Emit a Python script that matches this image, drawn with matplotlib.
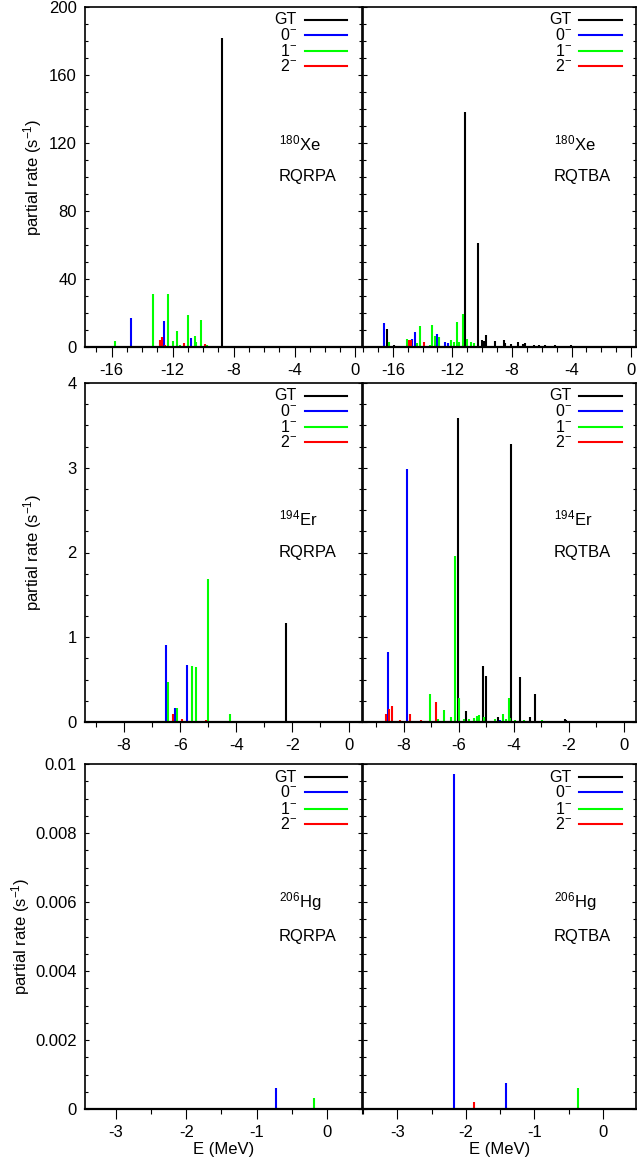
import matplotlib
matplotlib.use("Agg")
import matplotlib.pyplot as plt
from matplotlib.ticker import MultipleLocator, FuncFormatter

plt.rcParams['font.family'] = ['Liberation Sans', 'DejaVu Sans']
plt.rcParams['mathtext.fontset'] = 'custom'
plt.rcParams['mathtext.rm'] = 'Liberation Sans'
plt.rcParams['mathtext.it'] = 'Liberation Sans:italic'
plt.rcParams['mathtext.bf'] = 'Liberation Sans:bold'
plt.rcParams['axes.unicode_minus'] = False

# ---------------- data: 180Xe RQRPA ----------------
xe_qrpa_gt_E = [-8.78, -3.85]
xe_qrpa_gt_R = [182.0, 0.5]
xe_qrpa_0_E = [-14.75, -12.57, -10.79]
xe_qrpa_0_R = [17.3, 15.3, 5.3]
xe_qrpa_1_E = [-15.78, -13.29, -12.32, -11.96, -11.71, -11.54, -10.99, -10.53, -10.44, -10.14, -9.72]
xe_qrpa_1_R = [3.5, 31.0, 31.0, 3.5, 9.4, 1.2, 18.6, 6.5, 3.1, 15.9, 1.2]
xe_qrpa_2_E = [-12.83, -12.70, -12.50, -11.25, -9.87, -6.81]
xe_qrpa_2_R = [3.9, 5.9, 1.2, 2.4, 2.0, 0.6]

# ---------------- data: 180Xe RQTBA ----------------
xe_qtba_gt_E = [-16.40, -15.91, -11.15, -10.28, -9.99, -9.87, -9.74, -9.15, -8.53, -8.44, -8.06,
                -7.59, -7.28, -7.14, -6.54, -6.16, -5.80, -5.09, -4.57, -4.01, -3.29]
xe_qtba_gt_R = [10.6, 1.2, 138.0, 61.4, 3.9, 3.5, 7.1, 3.5, 3.9, 2.2, 2.0,
                2.7, 1.6, 2.4, 1.2, 1.0, 1.4, 1.2, 0.8, 1.0, 0.6]
xe_qtba_0_E = [-16.60, -14.70, -14.52, -13.03, -12.51, -12.29]
xe_qtba_0_R = [14.1, 4.7, 8.8, 7.6, 2.7, 2.2]
xe_qtba_1_E = [-16.23, -15.06, -14.39, -14.15, -13.48, -13.36, -13.18, -12.87, -12.07, -11.89,
               -11.68, -11.57, -11.26, -10.99, -10.77, -10.54]
xe_qtba_1_R = [2.7, 4.5, 2.2, 12.2, 1.2, 12.9, 6.5, 5.7, 3.9, 2.9,
               14.5, 2.9, 19.2, 4.7, 3.1, 2.4]
xe_qtba_2_E = [-17.17, -15.60, -14.91, -14.79, -13.88, -13.70, -10.10, -9.10, -4.20]
xe_qtba_2_R = [0.4, 0.8, 3.9, 4.3, 2.7, 0.8, 0.5, 0.5, 0.3]

# ---------------- data: 194Er RQRPA ----------------
er_qrpa_gt_E = [-2.24]
er_qrpa_gt_R = [1.172]
er_qrpa_0_E = [-6.52, -6.17, -5.77]
er_qrpa_0_R = [0.912, 0.161, 0.669]
er_qrpa_1_E = [-6.42, -6.11, -5.59, -5.45, -5.02, -4.82, -4.21]
er_qrpa_1_R = [0.468, 0.169, 0.657, 0.653, 1.691, 0.01, 0.098]
er_qrpa_2_E = [-6.27, -5.93, -5.09, -3.99]
er_qrpa_2_R = [0.094, 0.031, 0.02, 0.016]

# ---------------- data: 194Er RQTBA ----------------
er_qtba_gt_E = [-6.01, -5.73, -5.13, -5.02, -4.56, -4.10, -3.77, -3.42, -3.24,
                -2.58, -2.15, -2.10, -1.98, -1.52, -1.03]
er_qtba_gt_R = [3.59, 0.126, 0.661, 0.547, 0.063, 3.28, 0.535, 0.055, 0.33,
                0.012, 0.03, 0.028, 0.016, 0.012, 0.008]
er_qtba_0_E = [-8.57, -7.87, -4.51]
er_qtba_0_R = [0.826, 2.99, 0.028]
er_qtba_1_E = [-7.09, -7.03, -6.74, -6.53, -6.29, -6.13, -5.97, -5.82, -5.64, -5.54, -5.44,
               -5.33, -5.27, -5.08, -4.98, -4.84, -4.69, -4.38, -4.29, -4.18, -4.12,
               -3.95, -3.62, -3.39, -2.97, -2.91]
er_qtba_1_R = [0.016, 0.334, 0.03, 0.146, 0.063, 1.96, 0.287, 0.04, 0.03, 0.016, 0.043,
               0.075, 0.087, 0.063, 0.016, 0.016, 0.03, 0.098, 0.03, 0.287, 0.047,
               0.028, 0.02, 0.016, 0.02, 0.016]
er_qtba_2_E = [-8.64, -8.52, -8.42, -8.34, -8.15, -7.78, -7.38, -6.84]
er_qtba_2_R = [0.094, 0.157, 0.193, 0.016, 0.02, 0.09, 0.024, 0.232]

# ---------------- data: 206Hg RQRPA ----------------
hg_qrpa_gt_E = []
hg_qrpa_gt_R = []
hg_qrpa_0_E = [-0.717]
hg_qrpa_0_R = [0.0006]
hg_qrpa_1_E = [-0.185]
hg_qrpa_1_R = [0.00032]
hg_qrpa_2_E = []
hg_qrpa_2_R = []

# ---------------- data: 206Hg RQTBA ----------------
hg_qtba_gt_E = []
hg_qtba_gt_R = []
hg_qtba_0_E = [-2.18, -1.41]
hg_qtba_0_R = [0.0097, 0.00076]
hg_qtba_1_E = [-0.37]
hg_qtba_1_R = [0.00062]
hg_qtba_2_E = [-1.88]
hg_qtba_2_R = [0.00021]

channel_labels = ['GT', '0$^{-}$', '1$^{-}$', '2$^{-}$']
channel_colors = ['#000000', '#0000ff', '#00ff00', '#ff0000']
nuclei = ['$^{180}$Xe', '$^{194}$Er', '$^{206}$Hg']
methods = ['RQRPA', 'RQTBA']

panels = [
    [[(xe_qrpa_gt_E, xe_qrpa_gt_R), (xe_qrpa_0_E, xe_qrpa_0_R), (xe_qrpa_1_E, xe_qrpa_1_R), (xe_qrpa_2_E, xe_qrpa_2_R)],
     [(xe_qtba_gt_E, xe_qtba_gt_R), (xe_qtba_0_E, xe_qtba_0_R), (xe_qtba_1_E, xe_qtba_1_R), (xe_qtba_2_E, xe_qtba_2_R)]],
    [[(er_qrpa_gt_E, er_qrpa_gt_R), (er_qrpa_0_E, er_qrpa_0_R), (er_qrpa_1_E, er_qrpa_1_R), (er_qrpa_2_E, er_qrpa_2_R)],
     [(er_qtba_gt_E, er_qtba_gt_R), (er_qtba_0_E, er_qtba_0_R), (er_qtba_1_E, er_qtba_1_R), (er_qtba_2_E, er_qtba_2_R)]],
    [[(hg_qrpa_gt_E, hg_qrpa_gt_R), (hg_qrpa_0_E, hg_qrpa_0_R), (hg_qrpa_1_E, hg_qrpa_1_R), (hg_qrpa_2_E, hg_qrpa_2_R)],
     [(hg_qtba_gt_E, hg_qtba_gt_R), (hg_qtba_0_E, hg_qtba_0_R), (hg_qtba_1_E, hg_qtba_1_R), (hg_qtba_2_E, hg_qtba_2_R)]],
]

# layout (pixels)
W, H = 637, 1165
rows_px = [(7, 347), (383, 722), (764, 1109)]
cols_px = [(85, 362), (363, 636)]
ylabel_x = [33, 33, 21]
xlims = [[(-17.75, 0.43), (-18.0, 0.33)],
         [(-9.39, 0.48), (-9.48, 0.45)],
         [(-3.44, 0.50), (-3.50, 0.48)]]
ylims = [(0, 200), (0, 4), (0, 0.01)]
ymaj = [40, 1, 0.002]
ymin = [10, 0.25, 0.0005]
xmaj = [4, 2, 1]
xmin = [1, 1, 0.5]

fig = plt.figure(figsize=(W / 100, H / 100), dpi=100)

def fmt(v, pos):
    v = round(v, 6) + 0.0
    return '%g' % v

for r in range(3):
    y0, y1 = rows_px[r]
    for c in range(2):
        x0, x1 = cols_px[c]
        ax = fig.add_axes([x0 / W, 1 - y1 / H, (x1 - x0) / W, (y1 - y0) / H])
        for k in range(4):
            E, R = panels[r][c][k]
            if len(E):
                ax.vlines(E, 0, R, colors=channel_colors[k], linewidth=1.5, zorder=2)
        ax.set_xlim(*xlims[r][c])
        ax.set_ylim(*ylims[r])
        ax.xaxis.set_major_locator(MultipleLocator(xmaj[r]))
        ax.xaxis.set_minor_locator(MultipleLocator(xmin[r]))
        ax.yaxis.set_major_locator(MultipleLocator(ymaj[r]))
        ax.yaxis.set_minor_locator(MultipleLocator(ymin[r]))
        ax.xaxis.set_major_formatter(FuncFormatter(fmt))
        ax.yaxis.set_major_formatter(FuncFormatter(fmt))
        ax.tick_params(axis='x', which='major', direction='out', length=7.2, width=0.8,
                       labelsize=12, pad=4, top=False)
        ax.tick_params(axis='x', which='minor', direction='out', length=3.6, width=0.8, top=False)
        ax.tick_params(axis='y', which='major', direction='in', length=3.0, width=0.8,
                       labelsize=12, left=True, right=True, pad=6)
        ax.tick_params(axis='y', which='minor', direction='in', length=2.2, width=0.8,
                       left=True, right=True)
        if c == 1:
            ax.tick_params(axis='y', labelleft=False)
        for sp in ax.spines.values():
            sp.set_linewidth(1.2)
        ax.spines['bottom'].set_linewidth(1.6)
        ax.spines['bottom'].set_zorder(3)
        # legend
        ys = [0.962, 0.918, 0.871, 0.826]
        for k in range(4):
            ax.plot([0.793, 0.947], [ys[k], ys[k]], transform=ax.transAxes,
                    color=channel_colors[k], lw=1.5, clip_on=False)
            ax.text(0.765, ys[k], channel_labels[k], transform=ax.transAxes,
                    ha='right', va='center', fontsize=11.5)
        ax.text(0.70, 0.60, nuclei[r], transform=ax.transAxes, ha='left', va='center', fontsize=12)
        ax.text(0.70, 0.50, methods[c], transform=ax.transAxes, ha='left', va='center', fontsize=12)
        if r == 2:
            ax.set_xlabel('E (MeV)', fontsize=12, labelpad=2)
    fig.text(ylabel_x[r] / W, 1 - ((y0 + y1) / 2) / H, 'partial rate (s$^{-1}$)', rotation=90,
             ha='center', va='center', fontsize=12)

fig.savefig('out.png', dpi=100)
